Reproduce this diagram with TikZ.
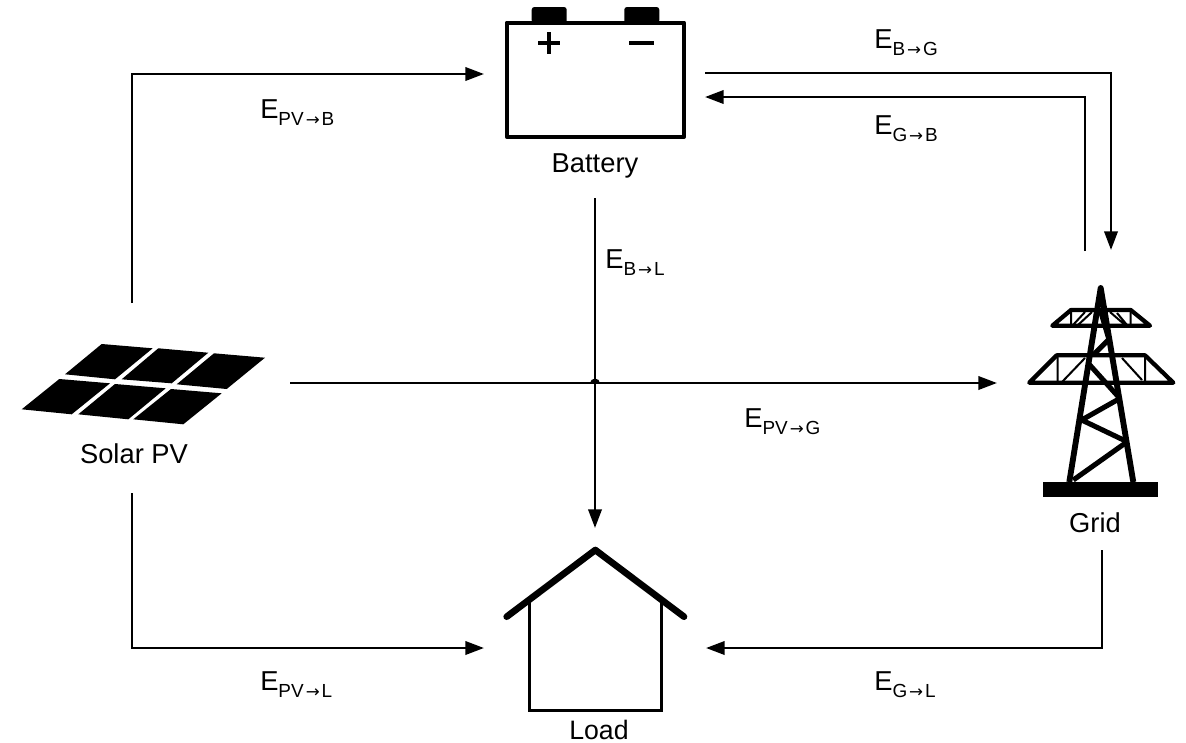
\documentclass[tikz,border=0pt]{standalone}
\usepackage{fontspec}
\setmainfont{Liberation Sans}
\newfontfamily\arrowfont{DejaVu Sans}
\usetikzlibrary{arrows.meta}
\newcommand{\flowE}[2]{E\raisebox{-0.26em}{\fontsize{14.2}{16}\selectfont #1\kern1.5pt{\arrowfont\fontsize{12.5}{16}\selectfont →}\kern1.5pt#2}}
\tikzset{
  x=0.75pt,y=-0.75pt,
  link/.style={line width=2pt,-{Triangle[length=14pt,width=10pt]},line join=miter},
  iconlabel/.style={font=\fontsize{20.5}{24}\selectfont,anchor=base,inner sep=0pt,text=black},
  flowlabel/.style={font=\fontsize{20.5}{24}\selectfont,anchor=base west,inner sep=0pt,text=black},
  thickline/.style={line width=3.2pt,line cap=round,line join=round},
  thinline/.style={line width=1.5pt},
  brace/.style={line width=3.8pt},
  cell/.style={fill=black,draw=none},
}
\begin{document}
\begin{tikzpicture}
\useasboundingbox (0,0) rectangle (1186,743);
% Battery
\fill[rounded corners=2pt] (531.7,23) -- (531.7,7) -- (566.7,7) -- (566.7,23) -- cycle;
\fill[rounded corners=2pt] (624.3,23) -- (624.3,7) -- (659.3,7) -- (659.3,23) -- cycle;
\draw[line width=3.2pt,line join=round] (506.7,22.7) rectangle (684,136.7);
\draw[line width=3pt] (538.3,43.3) -- (560.3,43.3) (549.3,32.3) -- (549.3,54.3);
\draw[line width=3pt] (629,43.3) -- (654.3,43.3);
\node[iconlabel] (batterylabel) at (595,172) {Battery};
% Solar PV
\fill[cell] (101.7,344) -- (152.7,348.3) -- (115,379.3) -- (65,374.3) -- cycle;
\fill[cell] (158.3,348.3) -- (208.3,352.7) -- (171.7,383.3) -- (121.7,379.3) -- cycle;
\fill[cell] (214,353.3) -- (265,357.7) -- (226.7,389) -- (176.7,384.3) -- cycle;
\fill[cell] (59.3,379) -- (110,383.3) -- (71.7,414.3) -- (21.7,409.3) -- cycle;
\fill[cell] (115,384) -- (165.7,388.3) -- (128.3,419.3) -- (78.3,414.3) -- cycle;
\fill[cell] (171,389) -- (221.7,393.3) -- (183.3,424.3) -- (133.3,419.3) -- cycle;
\node[iconlabel] (pvlabel) at (134,463) {Solar PV};
% Load
\draw[line width=2.2pt,line join=miter] (529.3,601.7) -- (529.3,710.7) -- (661.7,710.7) -- (661.7,601.7);
\draw[line width=5pt,line cap=round,line join=round] (506.7,616.7) -- (595.3,550) -- (684,616.7);
\node[iconlabel,font=\fontsize{20}{23}\selectfont] (loadlabel) at (599,739.5) {Load};
% Grid
\fill (1043.3,481.7) rectangle (1158.3,496.7);
\draw[line width=4.4pt,line join=round] (1069.3,482) -- (1100.7,288) -- (1133.3,482);
\draw[thickline] (1071,310) -- (1130.7,310) -- (1150,325.7) -- (1052.3,325.7) -- cycle;
\draw[thickline] (1056.7,355.3) -- (1145,355.3) -- (1173.3,382.7) -- (1029.3,382.7) -- cycle;
\draw[brace] (1125,443.3) -- (1073.3,480);
\draw[brace] (1081.7,420) -- (1125,440.7);
\draw[brace] (1081.7,420) -- (1118.3,399.3);
\draw[brace] (1088.3,363.3) -- (1118.3,396.7);
\draw[brace] (1093.3,355) -- (1108.3,340);
\draw[line width=2.6pt] (1108.3,340) -- (1100,312);
\draw[thinline] (1071,310) -- (1071,325) (1073,325) -- (1085,312) (1092,312) -- (1078,325);
\draw[thinline] (1130.7,310) -- (1130.7,325) (1110,312) -- (1125,325) (1127,325) -- (1117,313);
\draw[thinline] (1057.7,355.3) -- (1057.7,382) (1062,382) -- (1085,358);
\draw[thinline] (1145,355.3) -- (1145,382) (1142,380) -- (1122,358);
\node[iconlabel] (gridlabel) at (1095,532) {Grid};
% Connector ends
\coordinate (pvTop) at (132,303);
\coordinate (pvBottom) at (132,493);
\coordinate (pvRight) at (290,383);
\coordinate (batIn) at (484,74);
\coordinate (batOut) at (705,73);
\coordinate (batBack) at (705,97);
\coordinate (batDown) at (595,198);
\coordinate (loadTop) at (595,528);
\coordinate (loadLeft) at (484,648);
\coordinate (loadRight) at (706,648);
\coordinate (gridLeft) at (997,383);
\coordinate (gridIn) at (1111,250);
\coordinate (gridOut) at (1085,251);
\coordinate (gridDown) at (1102,550);
% Connectors
\draw[link] (pvTop) |- (batIn);
\draw[link] (pvBottom) |- (loadLeft);
\draw[link] (pvRight) -- (gridLeft);
\draw[link] (batDown) -- (loadTop);
\draw[link] (batOut) -| (gridIn);
\draw[link] (gridOut) |- (batBack);
\draw[link] (gridDown) |- (loadRight);
\fill (590,383.5) arc[start angle=180,end angle=360,radius=5] -- cycle;
% Flow labels
\node[flowlabel] (epvb) at (260,118) {\flowE{PV}{B}};
\node[flowlabel] (epvl) at (260,690) {\flowE{PV}{L}};
\node[flowlabel] (epvg) at (744,427) {\flowE{PV}{G}};
\node[flowlabel] (ebl) at (605,268) {\flowE{B}{L}};
\node[flowlabel] (ebg) at (874,48) {\flowE{B}{G}};
\node[flowlabel] (egb) at (874,134) {\flowE{G}{B}};
\node[flowlabel] (egl) at (874,690) {\flowE{G}{L}};
\end{tikzpicture}
\end{document}
